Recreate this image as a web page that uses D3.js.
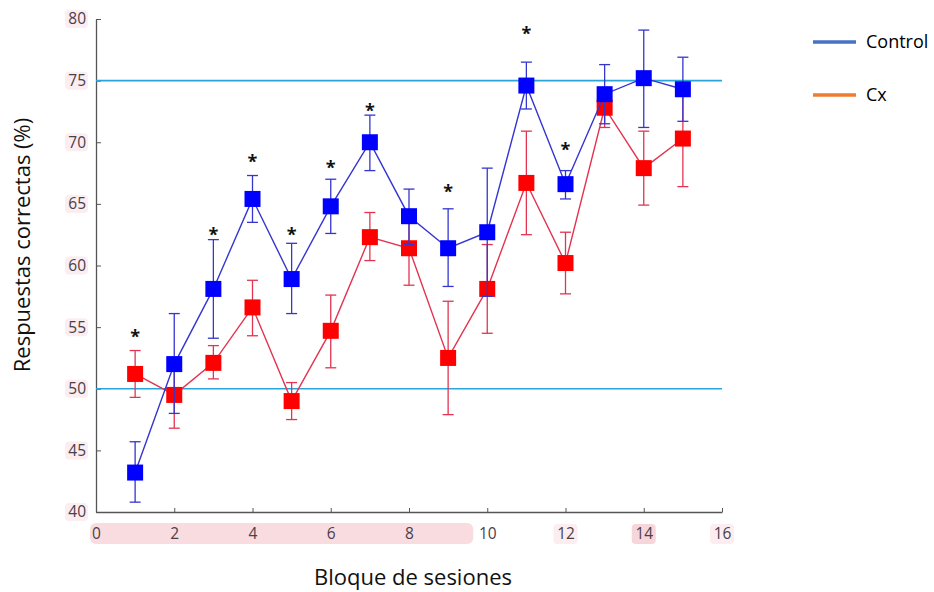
<!DOCTYPE html>
<html>
<head>
<meta charset="utf-8">
<script src="https://cdn.jsdelivr.net/npm/d3@7"></script>
<style>
  body { margin: 0; background: #fff; }
  svg { display: block; }
</style>
</head>
<body>
<div id="chart"></div>
<script>
// Bloque de sesiones 1..15
const blocks = [1, 2, 3, 4, 5, 6, 7, 8, 9, 10, 11, 12, 13, 14, 15];

// Control group (blue)
const controlMean = [43.2, 52.0, 58.1, 65.4, 58.9, 64.8, 70.0, 64.0, 61.4, 62.7, 74.6, 66.6, 73.9, 75.2, 74.3];
const controlHigh = [45.7, 56.1, 62.1, 67.3, 61.8, 67.0, 72.2, 66.2, 64.6, 67.9, 76.5, 67.7, 76.3, 79.1, 76.9];
const controlLow  = [40.8, 48.0, 54.1, 63.5, 56.1, 62.6, 67.7, 61.7, 58.3, 57.5, 72.7, 65.4, 71.5, 71.2, 71.7];

// Cx group (red)
const cxMean = [51.2, 49.5, 52.1, 56.6, 49.0, 54.7, 62.3, 61.4, 52.5, 58.1, 66.7, 60.2, 72.8, 67.9, 70.3];
const cxHigh = [53.1, 52.3, 53.5, 58.8, 50.5, 57.6, 64.3, 64.3, 57.1, 61.7, 70.9, 62.7, 74.4, 70.9, 74.2];
const cxLow  = [49.3, 46.8, 50.8, 54.3, 47.5, 51.7, 60.4, 58.4, 47.9, 54.5, 62.5, 57.7, 71.2, 64.9, 66.4];

// significance asterisks (block, height in %)
const sigBlocks  = [1, 3, 4, 5, 6, 7, 9, 11, 12];
const sigHeights = [54.5, 62.8, 68.7, 62.8, 68.2, 72.9, 66.3, 79.1, 69.7];

const refLines = [75, 50];
const xTicks = [0, 2, 4, 6, 8, 10, 12, 14, 16];
const yTicks = [40, 45, 50, 55, 60, 65, 70, 75, 80];

const legendNames = ["Control", "Cx"];
const legendColors = ["#4472c4", "#ed7d31"];

const width = 934, height = 592;
const font = "'Open Sans', 'DejaVu Sans', sans-serif";

const svg = d3.select("#chart").append("svg")
    .attr("width", width)
    .attr("height", height);

const x = d3.scaleLinear().domain([0, 16]).range([96, 722]);
const y = d3.scaleLinear().domain([40, 80]).range([512, 19]);

// pinkish smudges behind tick labels (as in the scanned figure)
const pink = svg.append("g").attr("fill", "#f3c4cc");
pink.append("rect")
    .attr("x", x(0) - 6).attr("y", 523)
    .attr("width", x(10) - x(0) - 8).attr("height", 21)
    .attr("rx", 6)
    .attr("opacity", 0.6);
[12, 14, 16].forEach(t => {
  pink.append("rect")
      .attr("x", x(t) - 12).attr("y", 524)
      .attr("width", 24).attr("height", 20)
      .attr("rx", 4)
      .attr("opacity", t === 14 ? 0.7 : 0.3);
});
yTicks.forEach(t => {
  pink.append("rect")
      .attr("x", 65).attr("y", y(t) - 9)
      .attr("width", 23).attr("height", 18)
      .attr("rx", 4)
      .attr("opacity", 0.3);
});

// axes
const yAxis = d3.axisLeft(y).tickValues(yTicks).tickSize(-5).tickSizeOuter(0).tickPadding(10);
const xAxis = d3.axisBottom(x).tickValues(xTicks).tickSize(-4).tickSizeOuter(0).tickPadding(16);

const gy = svg.append("g").attr("transform", `translate(${x(0)},0)`).call(yAxis);
const gx = svg.append("g").attr("transform", `translate(0,${y(40)})`).call(xAxis);

[gx, gy].forEach(g => {
  g.select(".domain").attr("stroke", "#555").attr("stroke-width", 1.3);
  g.selectAll(".tick line").attr("stroke", "#555").attr("stroke-width", 1);
  g.selectAll(".tick text")
      .attr("fill", "#4a4048")
      .style("font-family", font)
      .style("font-size", "15.5px");
});

// reference lines at 75% and 50%
svg.append("g")
  .selectAll("line")
  .data(refLines)
  .join("line")
    .attr("x1", x(0))
    .attr("x2", x(16))
    .attr("y1", d => y(d))
    .attr("y2", d => y(d))
    .attr("stroke", "#2aa5dc")
    .attr("stroke-width", 1.6);

// series
const series = [
  { mean: cxMean, hi: cxHigh, lo: cxLow, line: "#e23450", fill: "#ff0000" },
  { mean: controlMean, hi: controlHigh, lo: controlLow, line: "#3535d0", fill: "#0000ff" }
];

const capW = 5.5, sq = 16;

series.forEach(s => {
  const pts = blocks.map((b, i) => ({ b, m: s.mean[i], hi: s.hi[i], lo: s.lo[i] }));
  const g = svg.append("g");

  // error bars
  const eb = g.append("g")
      .attr("stroke", s.line)
      .attr("stroke-width", 1.3);
  eb.selectAll("line.v")
    .data(pts)
    .join("line")
      .attr("class", "v")
      .attr("x1", d => x(d.b)).attr("x2", d => x(d.b))
      .attr("y1", d => y(d.hi)).attr("y2", d => y(d.lo));
  eb.selectAll("line.top")
    .data(pts)
    .join("line")
      .attr("class", "top")
      .attr("x1", d => x(d.b) - capW).attr("x2", d => x(d.b) + capW)
      .attr("y1", d => y(d.hi)).attr("y2", d => y(d.hi));
  eb.selectAll("line.bot")
    .data(pts)
    .join("line")
      .attr("class", "bot")
      .attr("x1", d => x(d.b) - capW).attr("x2", d => x(d.b) + capW)
      .attr("y1", d => y(d.lo)).attr("y2", d => y(d.lo));

  // connecting line
  g.append("path")
      .datum(pts)
      .attr("fill", "none")
      .attr("stroke", s.line)
      .attr("stroke-width", 1.4)
      .attr("d", d3.line().x(d => x(d.b)).y(d => y(d.m)));

  // square markers
  g.selectAll("rect")
    .data(pts)
    .join("rect")
      .attr("x", d => x(d.b) - sq / 2)
      .attr("y", d => y(d.m) - sq / 2)
      .attr("width", sq)
      .attr("height", sq)
      .attr("fill", s.fill);
});

// asterisks
svg.append("g")
  .selectAll("text")
  .data(sigBlocks.map((b, i) => ({ b, h: sigHeights[i] })))
  .join("text")
    .attr("x", d => x(d.b))
    .attr("y", d => y(d.h) + 10)
    .attr("text-anchor", "middle")
    .style("font-family", font)
    .style("font-size", "18px")
    .style("font-weight", "bold")
    .attr("fill", "#111")
    .text("*");

// axis titles
svg.append("text")
    .attr("x", 413)
    .attr("y", 585)
    .attr("text-anchor", "middle")
    .style("font-family", font)
    .style("font-size", "22px")
    .attr("fill", "#111")
    .text("Bloque de sesiones");

svg.append("text")
    .attr("transform", "translate(30,245) rotate(-90)")
    .attr("text-anchor", "middle")
    .style("font-family", font)
    .style("font-size", "22px")
    .attr("fill", "#111")
    .text("Respuestas correctas (%)");

// legend
const legend = svg.append("g");
legendNames.forEach((name, i) => {
  const ly = 42 + i * 53;
  legend.append("line")
      .attr("x1", 813).attr("x2", 856)
      .attr("y1", ly).attr("y2", ly)
      .attr("stroke", legendColors[i])
      .attr("stroke-width", 3.5);
  legend.append("text")
      .attr("x", 866)
      .attr("y", ly)
      .attr("dy", "0.35em")
      .style("font-family", font)
      .style("font-size", "18px")
      .attr("fill", "#000")
      .text(name);
});
</script>
</body>
</html>
